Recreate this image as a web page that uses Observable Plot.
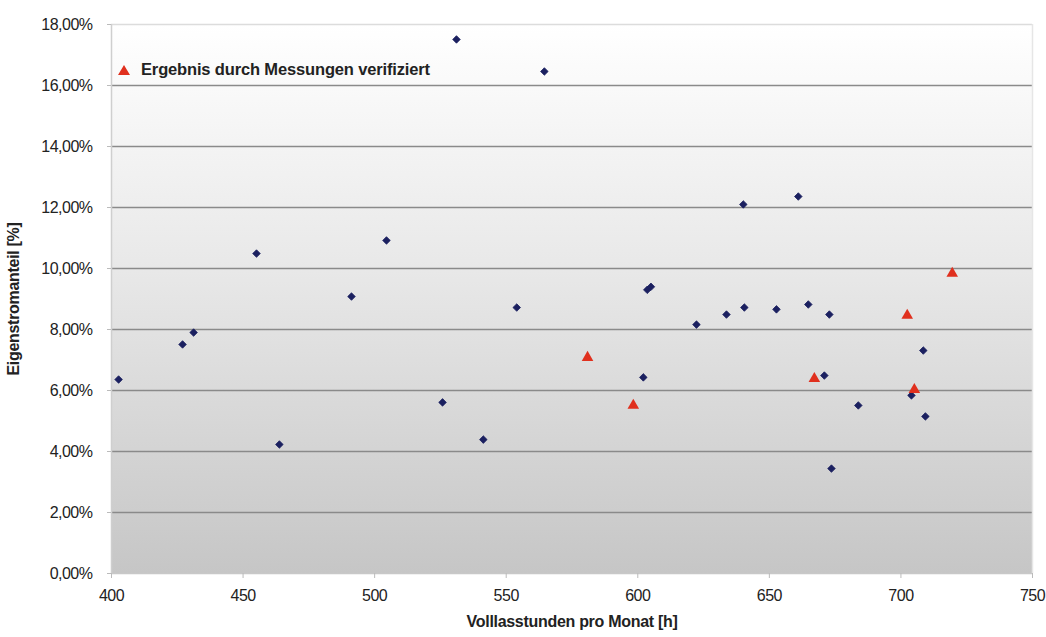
<!DOCTYPE html>
<html>
<head>
<meta charset="utf-8">
<script src="https://cdn.jsdelivr.net/npm/d3@7"></script>
<script src="https://cdn.jsdelivr.net/npm/@observablehq/plot@0.6"></script>
<style>
  body { margin: 0; background: #fff; }
  #wrap { position: relative; width: 1046px; height: 637px; }
  #legend { position: absolute; left: 117px; top: 60px; font: bold 16.5px "Liberation Sans", Arial, sans-serif; color: #222; display: flex; align-items: center; letter-spacing: -0.15px; }
  #legend svg { margin-right: 10px; }
  svg text { fill: #222; }
  g[aria-label$="tick label"] text { font-size: 16px; letter-spacing: -0.5px; }
  g[aria-label$="axis label"] text { font-weight: bold; font-size: 16px; letter-spacing: -0.3px; }
</style>
</head>
<body>
<div id="wrap">
  <div id="legend"><svg width="14" height="12"><path d="M7,1 L13,11 L1,11 Z" fill="#e0301e"/></svg>Ergebnis durch Messungen verifiziert</div>
</div>
<script>
// Calculated values (blue diamonds)
const calcHours = [402.7, 427, 431.2, 455.1, 463.8, 491.2, 504.5, 525.8, 531.1, 541.3, 554, 564.5, 602.1, 603.6, 605, 622.3, 633.7, 640.5, 640.1, 652.7, 661, 664.8, 672.8, 670.9, 673.6, 683.8, 704, 708.5, 709.3];
const calcShare = [6.36, 7.51, 7.90, 10.49, 4.23, 9.08, 10.92, 5.61, 17.51, 4.39, 8.72, 16.46, 6.43, 9.30, 9.40, 8.16, 8.49, 8.72, 12.10, 8.66, 12.36, 8.82, 8.49, 6.49, 3.44, 5.51, 5.84, 7.31, 5.15];
// Verified by measurements (red triangles)
const measHours = [580.9, 598.3, 667.1, 702.4, 705.1, 719.5];
const measShare = [7.08, 5.51, 6.39, 8.46, 6.03, 9.84];

const xTicks = [400, 450, 500, 550, 600, 650, 700, 750];
const yTicks = [0, 2, 4, 6, 8, 10, 12, 14, 16, 18];

const calc = calcHours.map((h, i) => ({h, s: calcShare[i]}));
const meas = measHours.map((h, i) => ({h, s: measShare[i]}));

const fmtY = d => d.toFixed(2).replace(".", ",") + "%";

const chart = Plot.plot({
  width: 1046,
  height: 637,
  marginLeft: 111,
  marginRight: 14,
  marginTop: 24,
  marginBottom: 64,
  style: {fontFamily: "'Liberation Sans', Arial, sans-serif", fontSize: "16px", background: "transparent"},
  x: {domain: [400, 750]},
  y: {domain: [0, 18]},
  marks: [
    Plot.gridY(yTicks.filter(d => d > 0 && d < 18), {stroke: "#8a8a8a", strokeOpacity: 1, strokeWidth: 1.6}),
    Plot.gridY([18], {stroke: "#dcdcdc", strokeOpacity: 1, strokeWidth: 1.6}),
    Plot.ruleY([0], {stroke: "#c8c8c8", strokeWidth: 1.5}),
    Plot.ruleX([400], {stroke: "#cfcfcf", strokeWidth: 1.5}),
    Plot.ruleX([750], {stroke: "#e6e6e6", strokeWidth: 1.5}),
    Plot.axisX({ticks: xTicks, tickSize: 5, tickPadding: 11, stroke: "#bbb", tickFormat: d => String(d),
      label: "Volllasstunden pro Monat [h]", labelAnchor: "center", labelOffset: 53, labelArrow: "none"}),
    Plot.axisY({ticks: yTicks, tickSize: 4, tickPadding: 15, stroke: "#bbb", tickFormat: fmtY,
      label: "Eigenstromanteil [%]", labelAnchor: "center", labelOffset: 104, labelArrow: "none"}),
    Plot.dot(calc, {x: "h", y: "s", symbol: "diamond2", r: 3.4, fill: "#1b2060", stroke: "#1b2060", strokeWidth: 0.8}),
    Plot.dot(meas, {x: "h", y: "s", symbol: "triangle", r: 4.3, fill: "#e0301e", stroke: "none"})
  ]
});

// gradient plot background
const xr = chart.scale("x").range, yr = chart.scale("y").range;
const svg = d3.select(chart);
const defs = svg.insert("defs", ":first-child");
const g = defs.append("linearGradient").attr("id", "bg").attr("x1", 0).attr("y1", 0).attr("x2", 0).attr("y2", 1);
g.append("stop").attr("offset", "0%").attr("stop-color", "#ffffff");
g.append("stop").attr("offset", "45%").attr("stop-color", "#e8e8e8");
g.append("stop").attr("offset", "100%").attr("stop-color", "#c6c6c6");
svg.insert("rect", "defs + *")
  .attr("x", Math.min(...xr)).attr("y", Math.min(...yr))
  .attr("width", Math.abs(xr[1] - xr[0])).attr("height", Math.abs(yr[1] - yr[0]))
  .attr("fill", "url(#bg)");

document.getElementById("wrap").prepend(chart);
</script>
</body>
</html>
